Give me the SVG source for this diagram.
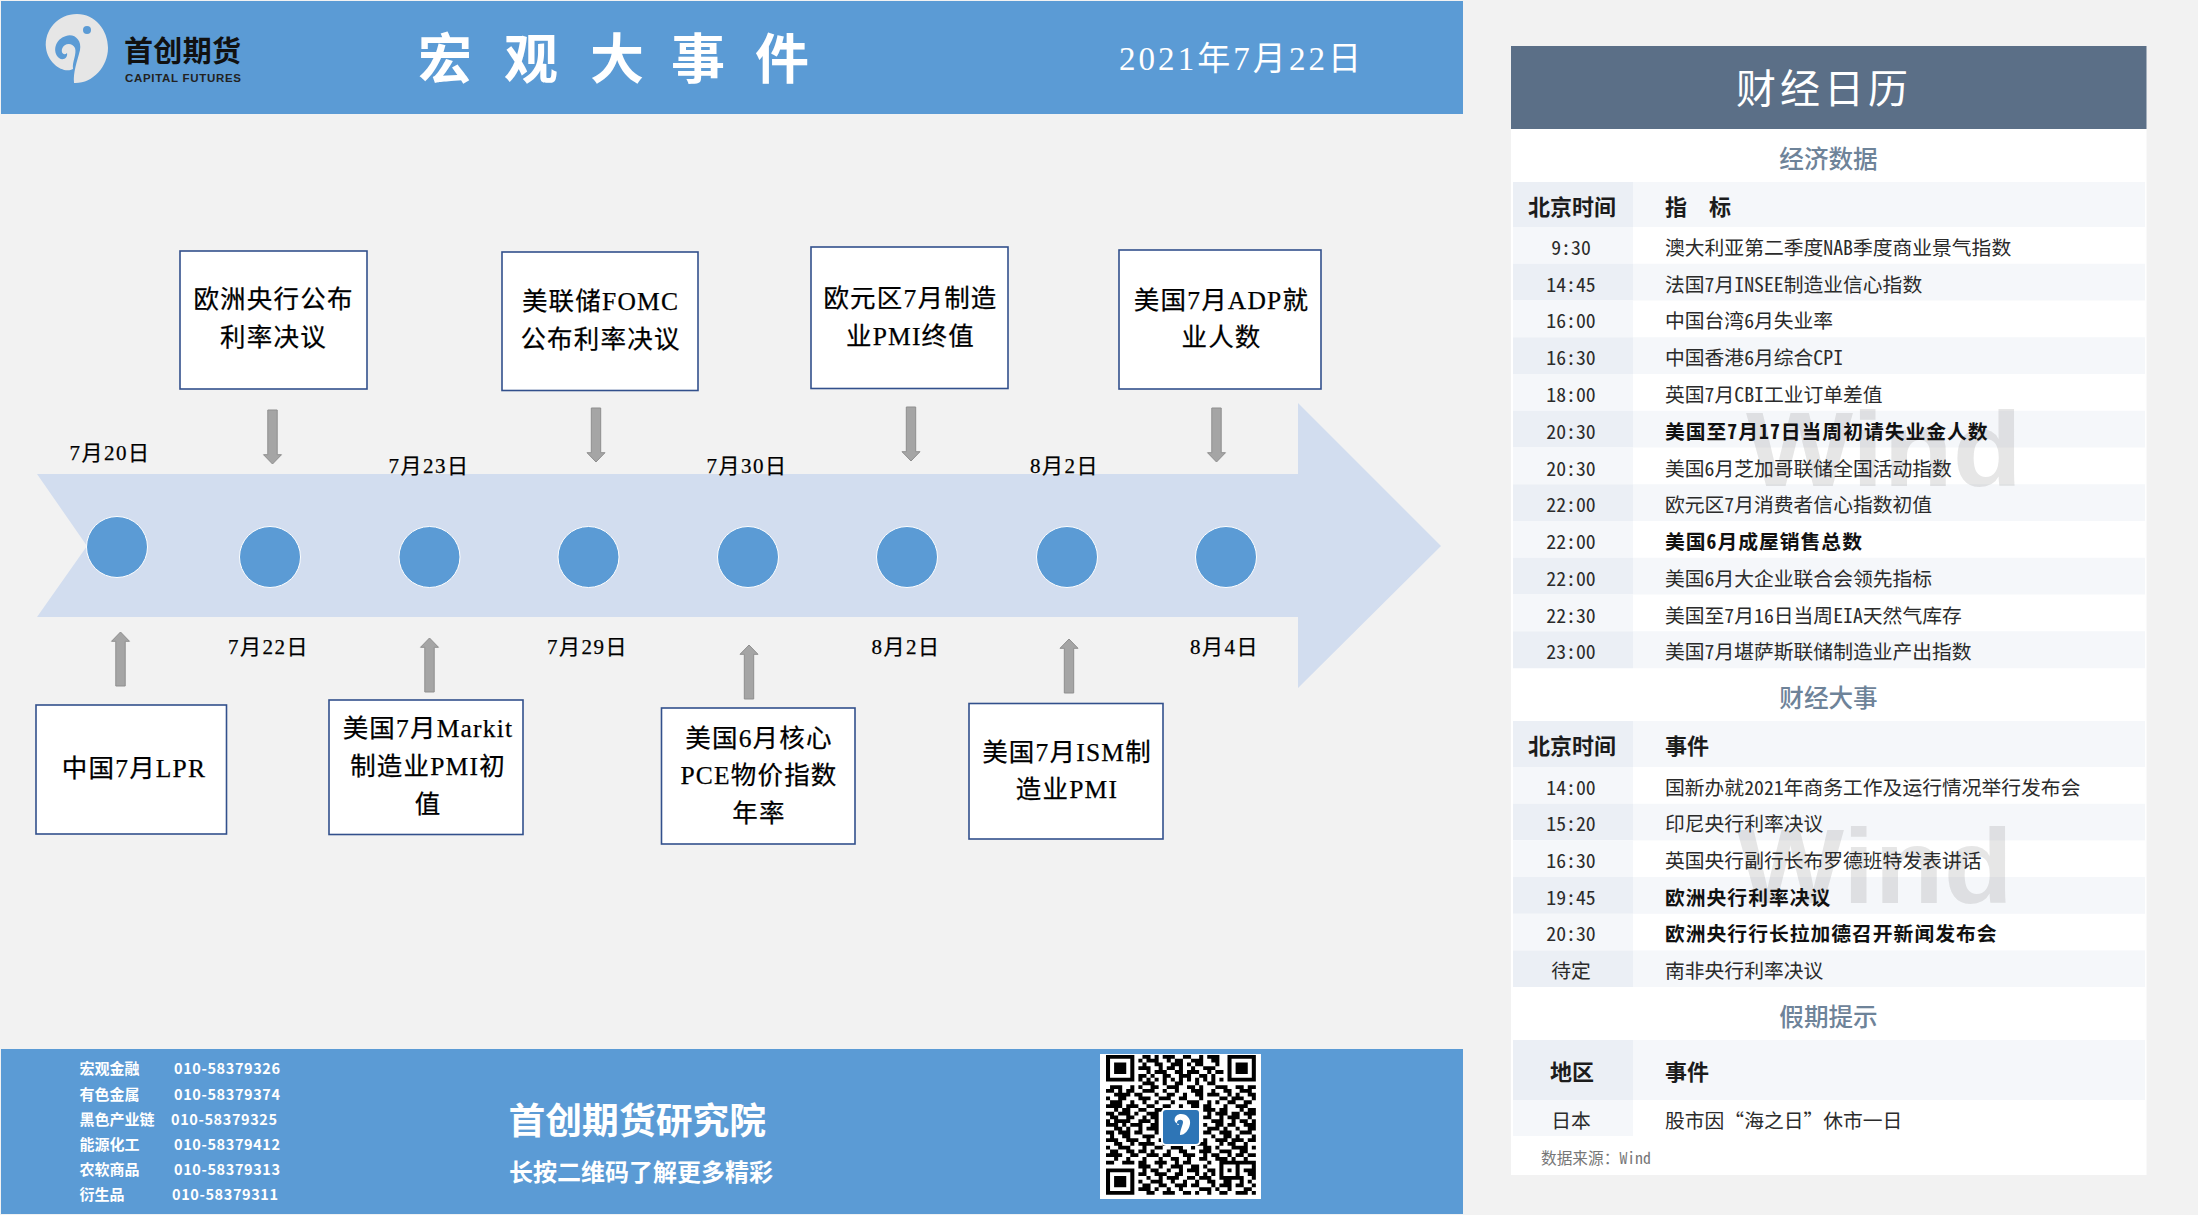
<svg xmlns="http://www.w3.org/2000/svg" xmlns:xlink="http://www.w3.org/1999/xlink" width="2198" height="1215" viewBox="0 0 2198 1215">
<style>
text{font-family:"Liberation Serif","Noto Sans CJK SC",sans-serif}
.m{text-anchor:middle}
.box{fill:#fff;stroke:#32508c;stroke-width:1.6}
.bt{font-size:25.5px;letter-spacing:1.2px;fill:#000;stroke:#000;stroke-width:.25px;text-anchor:middle;dominant-baseline:central}
.dt{font-size:21px;letter-spacing:1.5px;fill:#000;stroke:#000;stroke-width:.25px;text-anchor:middle;dominant-baseline:central}
.dot{fill:#5b9bd5;stroke:#fff;stroke-width:1}
.conn{fill:#a5a5a5;stroke:#8f8f8f;stroke-width:1}
.ft{font-family:"Noto Sans CJK SC",sans-serif;font-size:15px;font-weight:700;fill:#fff;dominant-baseline:central}
.ft2{font-family:"Noto Sans CJK SC",sans-serif;font-size:14.5px;font-weight:700;fill:#fff;dominant-baseline:central;letter-spacing:.6px}
.a{fill:#f5f7fa}.b{fill:#ebeff5}.w{fill:#fff}
.sec{font-family:"Noto Sans CJK SC",sans-serif;font-size:24.600px;fill:#6e8399;text-anchor:middle;dominant-baseline:central;font-weight:500}
.t{font-family:"Noto Sans CJK SC",sans-serif;font-size:19.8px;fill:#2b2b2b;dominant-baseline:central;font-feature-settings:"hwid" 1}
.tm{text-anchor:middle}
.bd{font-weight:700;fill:#111;letter-spacing:1px}
.h{font-family:"Noto Sans CJK SC",sans-serif;font-size:22px;font-weight:700;fill:#1c1c1c;dominant-baseline:central}
.wm{font-family:"Liberation Sans",sans-serif;font-size:106px;font-weight:700;fill:#808080;fill-opacity:.2}
</style>
<defs>
<path id="arr" d="M-4.7 0H4.7V44.7H9L0 54L-9 44.7H-4.7Z"/>
</defs>
<rect width="2198" height="1215" fill="#f2f2f2"/>
<g id="header">
<rect x="1" y="1" width="1462" height="113" fill="#5b9bd5"/>
<g id="logo">
<path d="M74 83C73 72 77 62 80 50C82 40 74 33 66 36C55 39 52 52 59 58C63 61 68 58 67 53C64 56 61 53 62 49C64 43 72 42 75 48C77 54 72 62 73 69C64 74 48 64 46 48C44 30 58 14 77 14C95 14 108 30 108 48C108 67 92 84 74 83Z" fill="#e6e6e6"/>
<circle cx="87" cy="30" r="4" fill="#5b9bd5"/>
<text x="124" y="62" font-size="29" font-weight="700" fill="#111" style="font-family:'Noto Sans CJK SC',sans-serif" textLength="117">首创期货</text>
<text x="125" y="82" font-size="11.500" font-weight="700" fill="#222" style="font-family:'Liberation Sans',sans-serif" textLength="116">CAPITAL FUTURES</text>
</g>
<g fill="#fff" font-size="54" font-weight="700" text-anchor="middle" dominant-baseline="central">
<text x="445" y="61">宏</text><text x="531" y="61">观</text><text x="617" y="61">大</text><text x="698" y="61">事</text><text x="782" y="61">件</text>
</g>
<text x="1240" y="59" font-size="33" fill="#fff" text-anchor="middle" dominant-baseline="central" textLength="242">2021年7月22日</text>
</g>
<g id="timeline-bar"><path d="M37 474H1298V403L1441 546L1298 688V617H37L87 546Z" fill="#d2ddef"/></g>
<g id="connectors">
<use href="#arr" class="conn" transform="translate(272.5 410)"/>
<use href="#arr" class="conn" transform="translate(596 408)"/>
<use href="#arr" class="conn" transform="translate(911 407)"/>
<use href="#arr" class="conn" transform="translate(1216.5 408)"/>
<use href="#arr" class="conn" transform="translate(120.5 686) scale(1 -1)"/>
<use href="#arr" class="conn" transform="translate(429.5 692) scale(1 -1)"/>
<use href="#arr" class="conn" transform="translate(749 699) scale(1 -1)"/>
<use href="#arr" class="conn" transform="translate(1069 693) scale(1 -1)"/>
</g>
<g id="milestones">
<circle class="dot" cx="117" cy="547" r="30.5"/>
<circle class="dot" cx="270" cy="557" r="30.5"/>
<circle class="dot" cx="429.500" cy="557" r="30.5"/>
<circle class="dot" cx="588.500" cy="557" r="30.5"/>
<circle class="dot" cx="748" cy="557" r="30.5"/>
<circle class="dot" cx="907" cy="557" r="30.5"/>
<circle class="dot" cx="1067" cy="557" r="30.5"/>
<circle class="dot" cx="1226" cy="557" r="30.5"/>
</g>
<g id="dates">
<text class="dt" x="110" y="453">7月20日</text>
<text class="dt" x="429" y="466">7月23日</text>
<text class="dt" x="747" y="466">7月30日</text>
<text class="dt" x="1064.500" y="466">8月2日</text>
<text class="dt" x="268.500" y="647">7月22日</text>
<text class="dt" x="587.500" y="647">7月29日</text>
<text class="dt" x="906" y="647">8月2日</text>
<text class="dt" x="1224.500" y="647">8月4日</text>
</g>
<g id="event-ecb"><rect class="box" x="180" y="251" width="187" height="138"/><text class="bt" x="273.500" y="299">欧洲央行公布</text><text class="bt" x="273.500" y="337">利率决议</text></g>
<g id="event-fomc"><rect class="box" x="502" y="252" width="196" height="138.500"/><text class="bt" x="600.500" y="301">美联储FOMC</text><text class="bt" x="600.500" y="339">公布利率决议</text></g>
<g id="event-ea-pmi"><rect class="box" x="811" y="247" width="197" height="141.500"/><text class="bt" x="910.500" y="298">欧元区7月制造</text><text class="bt" x="910.500" y="336">业PMI终值</text></g>
<g id="event-adp"><rect class="box" x="1119" y="250" width="202" height="139"/><text class="bt" x="1221.500" y="300">美国7月ADP就</text><text class="bt" x="1221.500" y="337">业人数</text></g>
<g id="event-lpr"><rect class="box" x="36" y="705" width="190.500" height="129"/><text class="bt" x="134" y="768">中国7月LPR</text></g>
<g id="event-markit"><rect class="box" x="329" y="700" width="194" height="134.500"/><text class="bt" x="428" y="728">美国7月Markit</text><text class="bt" x="428" y="766">制造业PMI初</text><text class="bt" x="428" y="804">值</text></g>
<g id="event-pce"><rect class="box" x="661.500" y="708" width="193.500" height="136"/><text class="bt" x="759" y="738">美国6月核心</text><text class="bt" x="759" y="775.500">PCE物价指数</text><text class="bt" x="759" y="813">年率</text></g>
<g id="event-ism"><rect class="box" x="969" y="703.500" width="194" height="135.500"/><text class="bt" x="1067" y="752">美国7月ISM制</text><text class="bt" x="1067" y="789">造业PMI</text></g>
<g id="footer">
<rect x="1" y="1049" width="1462" height="165" fill="#5b9bd5"/>
<text class="ft" x="79.500" y="1067">宏观金融</text><text class="ft2" x="174" y="1067">010-58379326</text>
<text class="ft" x="79.500" y="1093">有色金属</text><text class="ft2" x="174" y="1093">010-58379374</text>
<text class="ft" x="79.500" y="1118">黑色产业链</text><text class="ft2" x="171" y="1118">010-58379325</text>
<text class="ft" x="79.500" y="1143.500">能源化工</text><text class="ft2" x="174" y="1143.500">010-58379412</text>
<text class="ft" x="79.500" y="1168.500">农软商品</text><text class="ft2" x="174" y="1168.500">010-58379313</text>
<text class="ft" x="79.500" y="1193.500">衍生品</text><text class="ft2" x="172" y="1193.500">010-58379311</text>
<text x="508.500" y="1117.500" font-size="36.800" font-weight="700" fill="#fff" dominant-baseline="central" style="font-family:'Noto Sans CJK SC',sans-serif">首创期货研究院</text>
<text x="509" y="1170" font-size="24" font-weight="700" fill="#fff" dominant-baseline="central" style="font-family:'Noto Sans CJK SC',sans-serif">长按二维码了解更多精彩</text>
</g>
<g id="qr" transform="translate(0 1)">
<rect x="1100" y="1053" width="161" height="145" fill="#fff"/>
<g transform="translate(1106 1054) scale(4.05 3.78)">
<path fill="#000" fill-rule="evenodd" d="M0 0h7v7h-7zM1 1h5v5h-5zM2 2h3v3h-3zM30 0h7v7h-7zM31 1h5v5h-5zM32 2h3v3h-3zM0 30h7v7h-7zM1 31h5v5h-5zM2 32h3v3h-3z"/>
<path stroke="#000" stroke-width="1" fill="none" d="M9 .5h2M12 .5h1M14 .5h3M19 .5h2M23 .5h1M25 .5h3M8 1.500h1M10 1.500h3M15 1.500h1M17 1.500h2M21 1.500h3M26 1.500h2M9 2.500h1M12 2.500h2M16 2.500h3M20 2.500h1M22 2.500h2M27 2.500h1M8 3.500h3M13 3.500h1M15 3.500h2M18 3.500h1M21 3.500h1M24 3.500h3M10 4.500h1M12 4.500h3M17 4.500h2M20 4.500h3M25 4.500h1M27 4.500h2M8 5.500h2M11 5.500h1M14 5.500h2M18 5.500h3M23 5.500h2M26 5.500h1M8 6.500h1M10 6.500h1M12 6.500h1M14 6.500h1M16 6.500h1M18 6.500h1M20 6.500h1M22 6.500h1M24 6.500h1M26 6.500h1M28 6.500h1M9 7.500h3M14 7.500h1M17 7.500h2M22 7.500h1M25 7.500h2M1 8.500h3M6 8.500h1M8 8.500h1M11 8.500h2M15 8.500h3M20 8.500h2M23 8.500h1M27 8.500h3M32 8.500h2M35 8.500h2M0 9.500h2M3 9.500h1M5 9.500h2M9 9.500h3M14 9.500h1M17 9.500h1M21 9.500h3M26 9.500h1M29 9.500h2M33 9.500h3M2 10.500h4M7 10.500h2M12 10.500h1M15 10.500h2M19 10.500h1M22 10.500h2M25 10.500h3M30 10.500h1M32 10.500h1M35 10.500h2M0 11.500h1M3 11.500h2M8 11.500h3M13 11.500h3M18 11.500h2M23 11.500h1M28 11.500h2M31 11.500h3M36 11.500h1M1 12.500h3M6 12.500h1M9 12.500h1M12 12.500h1M16 12.500h1M20 12.500h3M25 12.500h1M27 12.500h1M30 12.500h2M34 12.500h2M0 13.500h4M5 13.500h3M10 13.500h2M14 13.500h2M18 13.500h1M21 13.500h2M24 13.500h2M29 13.500h1M32 13.500h3M2 14.500h1M4 14.500h2M8 14.500h2M12 14.500h2M24 14.500h3M28 14.500h2M33 14.500h1M35 14.500h2M0 15.500h2M3 15.500h3M7 15.500h1M10 15.500h3M25 15.500h1M27 15.500h3M31 15.500h2M34 15.500h3M1 16.500h2M5 16.500h2M9 16.500h1M11 16.500h2M24 16.500h2M28 16.500h1M30 16.500h3M35 16.500h1M0 17.500h1M2 17.500h4M8 17.500h3M12 17.500h1M26 17.500h3M31 17.500h1M33 17.500h2M36 17.500h1M0 18.500h3M4 18.500h1M6 18.500h3M11 18.500h2M24 18.500h1M27 18.500h2M30 18.500h2M34 18.500h3M2 19.500h2M5 19.500h1M8 19.500h1M10 19.500h3M25 19.500h3M29 19.500h1M32 19.500h1M35 19.500h2M0 20.500h2M3 20.500h3M7 20.500h2M12 20.500h1M24 20.500h2M28 20.500h3M33 20.500h3M1 21.500h1M4 21.500h2M9 21.500h3M26 21.500h1M29 21.500h2M32 21.500h1M36 21.500h1M0 22.500h3M5 22.500h3M10 22.500h1M13 22.500h1M24 22.500h1M27 22.500h3M31 22.500h3M35 22.500h2M2 23.500h2M6 23.500h1M8 23.500h4M14 23.500h2M19 23.500h1M22 23.500h3M28 23.500h1M30 23.500h2M34 23.500h1M0 24.500h1M3 24.500h3M9 24.500h1M12 24.500h2M16 24.500h3M21 24.500h1M24 24.500h2M27 24.500h1M31 24.500h4M36 24.500h1M1 25.500h2M5 25.500h2M8 25.500h2M11 25.500h1M15 25.500h1M18 25.500h2M23 25.500h3M28 25.500h3M33 25.500h2M0 26.500h4M6 26.500h2M10 26.500h3M14 26.500h2M19 26.500h3M24 26.500h1M26 26.500h2M30 26.500h1M32 26.500h2M35 26.500h2M2 27.500h1M5 27.500h1M9 27.500h1M13 27.500h1M16 27.500h2M20 27.500h1M23 27.500h2M27 27.500h3M31 27.500h1M34 27.500h1M0 28.500h2M4 28.500h3M8 28.500h2M12 28.500h3M17 28.500h1M19 28.500h2M25 28.500h1M28 28.500h9M8 29.500h3M13 29.500h1M16 29.500h3M21 29.500h2M24 29.500h1M28 29.500h1M32 29.500h1M36 29.500h1M9 30.500h1M11 30.500h2M15 30.500h1M18 30.500h1M20 30.500h3M25 30.500h2M28 30.500h1M30 30.500h1M32 30.500h1M34 30.500h3M8 31.500h2M12 31.500h3M17 31.500h2M22 31.500h1M24 31.500h1M26 31.500h1M28 31.500h1M32 31.500h1M35 31.500h2M10 32.500h1M13 32.500h1M15 32.500h3M20 32.500h2M23 32.500h3M28 32.500h6M36 32.500h1M8 33.500h1M11 33.500h3M16 33.500h1M19 33.500h1M22 33.500h1M25 33.500h2M29 33.500h2M33 33.500h1M35 33.500h1M9 34.500h2M13 34.500h2M17 34.500h3M21 34.500h2M26 34.500h1M28 34.500h3M32 34.500h2M36 34.500h1M8 35.500h3M12 35.500h1M15 35.500h1M18 35.500h1M23 35.500h3M27 35.500h1M30 35.500h1M34 35.500h2M10 36.500h2M14 36.500h3M19 36.500h2M22 36.500h1M25 36.500h1M28 36.500h2M32 36.500h3M36 36.500h1"/>
</g>
<rect x="1162" y="1108" width="38" height="36" rx="4" fill="#2e75b6" stroke="#fff" stroke-width="2"/>
<path d="M1180 1134C1180 1129 1183 1124 1183 1121C1183 1118 1178 1118 1177 1121C1176 1124 1179 1125 1179 1123C1172 1122 1174 1113 1181 1113C1187 1113 1191 1118 1190 1123C1189 1129 1185 1134 1180 1134Z" fill="#fff"/>
</g>
<g id="calendar">
<rect x="1511" y="129" width="635.500" height="1046" fill="#fff"/>
<rect x="1511" y="46" width="635.500" height="83" fill="#5b6f87"/>
<text x="1824" y="89" font-size="40" letter-spacing="4" fill="#fff" text-anchor="middle" dominant-baseline="central">财经日历</text>
<text class="sec" x="1828.500" y="157">经济数据</text>
<text class="sec" x="1828.500" y="696">财经大事</text>
<text class="sec" x="1828.500" y="1015">假期提示</text>
<g id="rows">
<rect class="b" x="1513" y="182" width="120" height="45"/><rect class="a" x="1633" y="182" width="512" height="45"/>
<rect class="a" x="1513" y="227" width="120" height="36.750"/>
<rect class="b" x="1513" y="263.750" width="120" height="36.750"/><rect class="a" x="1633" y="263.750" width="512" height="36.750"/>
<rect class="a" x="1513" y="300.500" width="120" height="36.750"/>
<rect class="b" x="1513" y="337.250" width="120" height="36.750"/><rect class="a" x="1633" y="337.250" width="512" height="36.750"/>
<rect class="a" x="1513" y="374" width="120" height="36.750"/>
<rect class="b" x="1513" y="410.750" width="120" height="36.750"/><rect class="a" x="1633" y="410.750" width="512" height="36.750"/>
<rect class="a" x="1513" y="447.500" width="120" height="36.750"/>
<rect class="b" x="1513" y="484.250" width="120" height="36.750"/><rect class="a" x="1633" y="484.250" width="512" height="36.750"/>
<rect class="a" x="1513" y="521" width="120" height="36.750"/>
<rect class="b" x="1513" y="557.750" width="120" height="36.750"/><rect class="a" x="1633" y="557.750" width="512" height="36.750"/>
<rect class="a" x="1513" y="594.500" width="120" height="36.750"/>
<rect class="b" x="1513" y="631.250" width="120" height="37"/><rect class="a" x="1633" y="631.250" width="512" height="37"/>
<rect class="b" x="1513" y="721" width="120" height="46"/><rect class="a" x="1633" y="721" width="512" height="46"/>
<rect class="a" x="1513" y="767" width="120" height="36.800"/>
<rect class="b" x="1513" y="803.800" width="120" height="36.600"/><rect class="a" x="1633" y="803.800" width="512" height="36.600"/>
<rect class="a" x="1513" y="840.400" width="120" height="36.600"/>
<rect class="b" x="1513" y="877" width="120" height="36.800"/><rect class="a" x="1633" y="877" width="512" height="36.800"/>
<rect class="a" x="1513" y="913.800" width="120" height="36.600"/>
<rect class="b" x="1513" y="950.400" width="120" height="36.600"/><rect class="a" x="1633" y="950.400" width="512" height="36.600"/>
<rect class="b" x="1513" y="1040" width="120" height="60"/><rect class="a" x="1633" y="1040" width="512" height="60"/>
<rect class="a" x="1513" y="1100" width="120" height="36"/>
</g>
<text class="wm" x="1746" y="486" textLength="276" lengthAdjust="spacingAndGlyphs">Wind</text>
<text class="wm" x="1737" y="903" textLength="276" lengthAdjust="spacingAndGlyphs">Wind</text>
<g transform="translate(-1 -1.300)">
<text class="h" x="1573" y="206" text-anchor="middle">北京时间</text><text class="h" x="1666" y="206">指　标</text>
<text class="t tm" x="1572" y="248">9:30</text><text class="t" x="1666" y="248">澳大利亚第二季度NAB季度商业景气指数</text>
<text class="t tm" x="1572" y="284.500">14:45</text><text class="t" x="1666" y="284.500">法国7月INSEE制造业信心指数</text>
<text class="t tm" x="1572" y="321">16:00</text><text class="t" x="1666" y="321">中国台湾6月失业率</text>
<text class="t tm" x="1572" y="358">16:30</text><text class="t" x="1666" y="358">中国香港6月综合CPI</text>
<text class="t tm" x="1572" y="395">18:00</text><text class="t" x="1666" y="395">英国7月CBI工业订单差值</text>
<text class="t tm" x="1572" y="431.500">20:30</text><text class="t bd" x="1666" y="431.500">美国至7月17日当周初请失业金人数</text>
<text class="t tm" x="1572" y="468.500">20:30</text><text class="t" x="1666" y="468.500">美国6月芝加哥联储全国活动指数</text>
<text class="t tm" x="1572" y="505">22:00</text><text class="t" x="1666" y="505">欧元区7月消费者信心指数初值</text>
<text class="t tm" x="1572" y="542">22:00</text><text class="t bd" x="1666" y="542">美国6月成屋销售总数</text>
<text class="t tm" x="1572" y="578.500">22:00</text><text class="t" x="1666" y="578.500">美国6月大企业联合会领先指标</text>
<text class="t tm" x="1572" y="615.500">22:30</text><text class="t" x="1666" y="615.500">美国至7月16日当周EIA天然气库存</text>
<text class="t tm" x="1572" y="652">23:00</text><text class="t" x="1666" y="652">美国7月堪萨斯联储制造业产出指数</text>
<text class="h" x="1573" y="745.500" text-anchor="middle">北京时间</text><text class="h" x="1666" y="745.500">事件</text>
<text class="t tm" x="1572" y="787.500">14:00</text><text class="t" x="1666" y="787.500">国新办就2021年商务工作及运行情况举行发布会</text>
<text class="t tm" x="1572" y="824">15:20</text><text class="t" x="1666" y="824">印尼央行利率决议</text>
<text class="t tm" x="1572" y="860.500">16:30</text><text class="t" x="1666" y="860.500">英国央行副行长布罗德班特发表讲话</text>
<text class="t tm" x="1572" y="897.500">19:45</text><text class="t bd" x="1666" y="897.500">欧洲央行利率决议</text>
<text class="t tm" x="1572" y="934">20:30</text><text class="t bd" x="1666" y="934">欧洲央行行长拉加德召开新闻发布会</text>
<text class="t tm" x="1572" y="971">待定</text><text class="t" x="1666" y="971">南非央行利率决议</text>
<text class="h" x="1573" y="1071.500" text-anchor="middle">地区</text><text class="h" x="1666" y="1071.500">事件</text>
<text class="t tm" x="1572" y="1120.500">日本</text><text class="t" x="1666" y="1120.500">股市因“海之日”休市一日</text>
<text class="t" x="1542" y="1158.800" style="font-size:15.700px;fill:#777">数据来源：Wind</text>
</g>
</g>
</svg>
